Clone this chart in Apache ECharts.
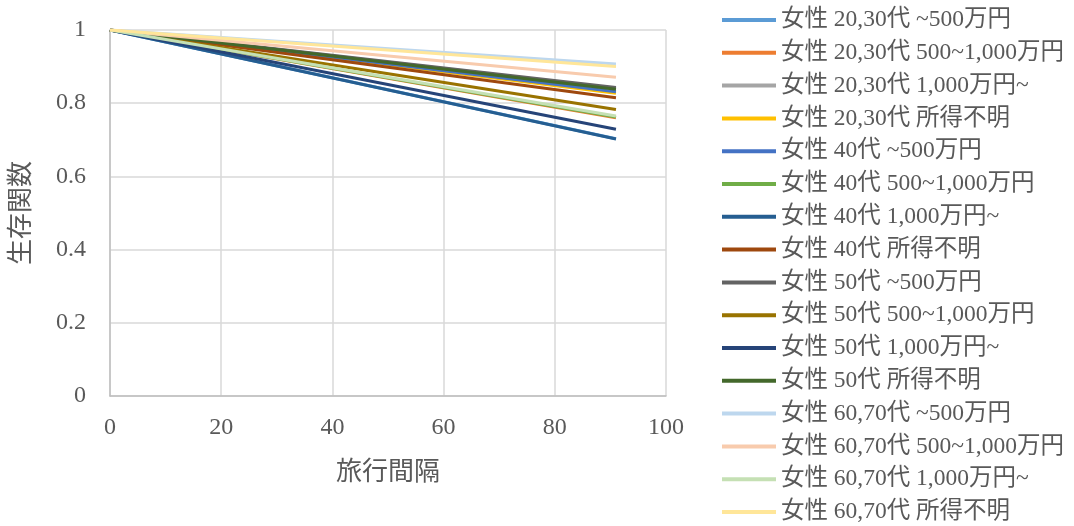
<!DOCTYPE html>
<html>
<head>
<meta charset="utf-8">
<script src="https://cdn.jsdelivr.net/npm/echarts@6/dist/echarts.min.js"></script>
<style>
  html, body { margin: 0; padding: 0; background: #ffffff; }
  #chart { width: 1074px; height: 526px; }
</style>
</head>
<body>
<div id="chart"></div>
<script>
// Travel interval (x) at which each survival curve is sampled
const intervals = [0, 91];

// Series names, in legend order
const seriesNames = [
  '女性 20,30代 ~500万円',
  '女性 20,30代 500~1,000万円',
  '女性 20,30代 1,000万円~',
  '女性 20,30代 所得不明',
  '女性 40代 ~500万円',
  '女性 40代 500~1,000万円',
  '女性 40代 1,000万円~',
  '女性 40代 所得不明',
  '女性 50代 ~500万円',
  '女性 50代 500~1,000万円',
  '女性 50代 1,000万円~',
  '女性 50代 所得不明',
  '女性 60,70代 ~500万円',
  '女性 60,70代 500~1,000万円',
  '女性 60,70代 1,000万円~',
  '女性 60,70代 所得不明'
];

// Survival function values at each interval
const survival = [
  [1, 0.703],
  [1, 0.760],
  [1, 0.840],
  [1, 0.827],
  [1, 0.831],
  [1, 0.762],
  [1, 0.702],
  [1, 0.815],
  [1, 0.843],
  [1, 0.783],
  [1, 0.729],
  [1, 0.838],
  [1, 0.907],
  [1, 0.871],
  [1, 0.765],
  [1, 0.900]
];

const seriesColors = [
  '#5B9BD5', '#ED7D31', '#A5A5A5', '#FFC000',
  '#4472C4', '#70AD47', '#255E91', '#9E480E',
  '#636363', '#997300', '#264478', '#43682B',
  '#BDD7EE', '#F8CBAD', '#C5E0B4', '#FFE699'
];

const xTicks = { min: 0, max: 100, interval: 20 };
const yTicks = { min: 0, max: 1, interval: 0.2 };

const fontFamily = "'Liberation Serif', 'Noto Sans CJK JP', serif";
const textColor = '#595959';

const chart = echarts.init(document.getElementById('chart'), null, { renderer: 'canvas' });

const series = seriesNames.map((name, i) => ({
  name: name,
  type: 'line',
  symbol: 'none',
  smooth: false,
  lineStyle: { width: 3, color: seriesColors[i] },
  itemStyle: { color: seriesColors[i] },
  data: intervals.map((x, j) => [x, survival[i][j]])
}));

chart.setOption({
  animation: false,
  backgroundColor: '#ffffff',
  textStyle: { fontFamily: fontFamily },
  grid: { left: 110, right: 408, top: 30, bottom: 130, containLabel: false },
  legend: {
    orient: 'vertical',
    left: 722,
    top: 8,
    padding: 0,
    height: 520,
    icon: 'rect',
    itemWidth: 54,
    itemHeight: 4,
    itemGap: 8.8,
    textStyle: { fontFamily: fontFamily, fontSize: 23.5, color: textColor, lineHeight: 24 },
    data: seriesNames
  },
  xAxis: {
    type: 'value',
    min: xTicks.min,
    max: xTicks.max,
    interval: xTicks.interval,
    name: '旅行間隔',
    nameLocation: 'middle',
    nameGap: 64,
    nameTextStyle: { fontFamily: fontFamily, fontSize: 26, color: textColor },
    axisLine: { show: true, lineStyle: { color: '#BFBFBF', width: 1.5 } },
    axisTick: { show: false },
    splitLine: { show: true, lineStyle: { color: '#D9D9D9', width: 1.5 } },
    axisLabel: { fontFamily: fontFamily, fontSize: 24, color: textColor, margin: 20 }
  },
  yAxis: {
    type: 'value',
    min: yTicks.min,
    max: yTicks.max,
    interval: yTicks.interval,
    name: '生存関数',
    nameLocation: 'middle',
    nameGap: 75,
    nameRotate: 90,
    nameTextStyle: { fontFamily: fontFamily, fontSize: 26, color: textColor },
    axisLine: { show: true, lineStyle: { color: '#BFBFBF', width: 1.5 } },
    axisTick: { show: false },
    splitLine: { show: true, lineStyle: { color: '#D9D9D9', width: 1.5 } },
    axisLabel: { fontFamily: fontFamily, fontSize: 24, color: textColor, margin: 24 }
  },
  series: series
});
</script>
</body>
</html>
